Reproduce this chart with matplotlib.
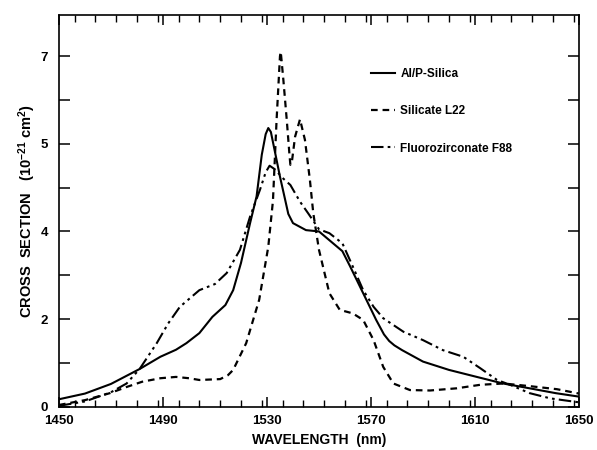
import matplotlib
matplotlib.use("Agg")
import matplotlib.pyplot as plt
from matplotlib.ticker import MultipleLocator, FixedLocator

plt.rcParams["font.family"] = ["Liberation Sans", "DejaVu Sans"]
plt.rcParams["font.weight"] = "bold"
plt.rcParams["mathtext.fontset"] = "custom"
plt.rcParams["mathtext.rm"] = "Liberation Sans:bold"
plt.rcParams["mathtext.it"] = "Liberation Sans:bold"
plt.rcParams["mathtext.bf"] = "Liberation Sans:bold"

# Emission cross-section spectra (y in axis tick units)
alp_wl = [1450, 1460, 1470, 1481, 1489, 1495, 1499, 1504, 1509, 1514, 1517, 1520,
          1523.5, 1526, 1528, 1529.5, 1530.5, 1531.5, 1532.5, 1533.7, 1535, 1537,
          1538.2, 1540, 1545, 1550, 1554, 1559, 1562, 1567, 1572, 1575, 1577, 1579,
          1582, 1590, 1600, 1610.7, 1620.8, 1631, 1641, 1650]
alp_cs = [0.17, 0.3, 0.52, 0.86, 1.14, 1.3, 1.45, 1.68, 2.05, 2.32, 2.66, 3.28,
          4.19, 4.8, 5.75, 6.22, 6.36, 6.27, 5.98, 5.63, 5.25, 4.72,
          4.4, 4.19, 4.03, 4.0, 3.8, 3.55, 3.2, 2.59, 1.98, 1.65, 1.5, 1.4,
          1.29, 1.03, 0.84, 0.68, 0.53, 0.42, 0.31, 0.23]

sil_wl = [1450, 1460, 1469.6, 1476, 1482, 1489, 1495, 1500, 1504, 1512, 1515, 1517,
          1522, 1527, 1530.5, 1532.3, 1533.7, 1535, 1535.3, 1536.3, 1537.6, 1538.6,
          1539, 1539.6, 1540.8, 1542.7, 1544.6, 1546.5, 1547.8, 1550, 1554, 1558,
          1563, 1567, 1571, 1574.7, 1578.6, 1585, 1592.7, 1603, 1612, 1621, 1631,
          1641.5, 1650]
sil_cs = [0.04, 0.15, 0.31, 0.45, 0.57, 0.65, 0.68, 0.65, 0.61, 0.63, 0.72, 0.84,
          1.45, 2.44, 3.65, 4.7, 6.55, 8.0, 8.1, 7.46, 6.55, 5.79,
          5.52, 5.6, 6.16, 6.56, 6.09, 5.18, 4.42, 3.58, 2.59, 2.21,
          2.13, 1.98, 1.52, 0.91, 0.53, 0.38, 0.37, 0.42, 0.5, 0.53, 0.47,
          0.4, 0.3]

fz_wl = [1450, 1460, 1470, 1476, 1481, 1487.6, 1492, 1496.5, 1504, 1510, 1514.5,
         1519.6, 1523.5, 1527.3, 1529.5, 1531, 1533, 1535, 1536, 1539, 1542.7, 1546,
         1550, 1554, 1559, 1563, 1567, 1571, 1574.7, 1582.5, 1590, 1597.7, 1605.5,
         1612, 1618.5, 1623.5, 1631, 1639, 1650]
fz_cs = [0.02, 0.12, 0.33, 0.53, 0.86, 1.45, 1.9, 2.28, 2.66, 2.8, 3.05,
         3.58, 4.34, 4.95, 5.35, 5.5, 5.42, 5.29, 5.22, 5.06, 4.68, 4.4,
         4.05, 3.96, 3.73, 3.2, 2.66, 2.28, 2.02, 1.71, 1.52, 1.29, 1.14,
         0.88, 0.61, 0.5, 0.31, 0.19, 0.1]

x_ticks = [1450, 1490, 1530, 1570, 1610, 1650]
y_tick_pos = [0, 2, 4, 6, 8]
y_tick_labels = ["0", "2", "4", "5", "7"]

fig = plt.figure(figsize=(5.97, 4.5), dpi=100)
ax = fig.add_axes([0.0988, 0.0962, 0.8710, 0.8705])

ax.plot(alp_wl, alp_cs, color="black", lw=1.5, ls="-", label="Al/P-Silica")
ax.plot(sil_wl, sil_cs, color="black", lw=1.6, ls=(0, (3, 2.2)), label="Silicate L22")
ax.plot(fz_wl, fz_cs, color="black", lw=1.5, ls=(0, (6, 2, 1.3, 2, 1.3, 2)),
        label="Fluorozirconate F88")

ax.set_xlim(1450, 1650)
ax.set_ylim(0, 8.94)

ax.xaxis.set_major_locator(FixedLocator(x_ticks))
ax.xaxis.set_minor_locator(MultipleLocator(8))
ax.yaxis.set_major_locator(FixedLocator(y_tick_pos))
ax.yaxis.set_minor_locator(MultipleLocator(1))
ax.set_yticklabels(y_tick_labels)

ax.tick_params(axis="x", which="major", direction="in", length=7, width=1.1,
               top=True, bottom=True, labelsize=9.5, pad=6)
ax.tick_params(axis="x", which="minor", direction="in", length=5, width=1.0,
               top=True, bottom=True)
ax.tick_params(axis="y", which="both", direction="in", length=8, width=1.1,
               left=True, right=True, labelsize=9.5, pad=8)
for lab in ax.get_xticklabels() + ax.get_yticklabels():
    lab.set_fontweight("bold")

for sp in ax.spines.values():
    sp.set_linewidth(1.2)

ax.set_xlabel("WAVELENGTH  (nm)", fontsize=10, fontweight="bold", labelpad=4)
ax.set_ylabel("CROSS  SECTION   (10$^{-21}$ cm$^{2}$)", fontsize=10.5,
              fontweight="bold", labelpad=2)

leg = ax.legend(loc="upper left", bbox_to_anchor=(0.600, 0.865), frameon=False,
                fontsize=8.5, handlelength=2.0, handletextpad=0.5,
                labelspacing=2.15, borderpad=0, borderaxespad=0)
for t in leg.get_texts():
    t.set_fontweight("bold")

fig.savefig("out.png", dpi=100)
